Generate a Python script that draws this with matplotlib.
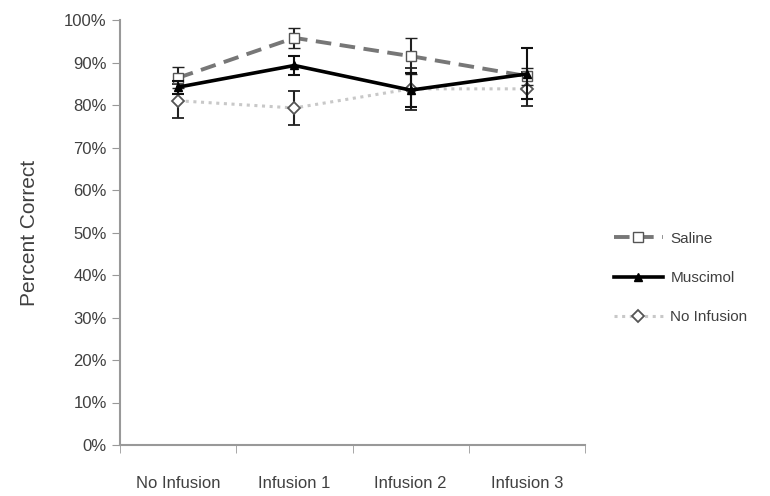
import numpy as np
import matplotlib
matplotlib.use("Agg")
import matplotlib.pyplot as plt
from matplotlib.ticker import PercentFormatter

plt.rcParams['font.family'] = ['Liberation Sans', 'DejaVu Sans']

# data
groups = ["No Infusion", "Infusion 1", "Infusion 2", "Infusion 3"]
saline = [86.4, 95.8, 91.5, 86.8]
saline_err = [2.5, 2.4, 4.2, 2.0]
muscimol = [84.2, 89.3, 83.5, 87.3]
muscimol_err = [1.5, 2.2, 4.0, 6.0]
noinf = [81.0, 79.3, 83.8, 83.8]
noinf_err = [4.0, 3.9, 5.0, 4.0]

fig = plt.figure(figsize=(7.7, 4.96), dpi=100)
ax = fig.add_axes([120 / 770, 51 / 496, 465 / 770, 425 / 496])

x = np.arange(len(groups))
axis_col = "#999999"
text_col = "#404040"

c1 = ax.errorbar(x, saline, yerr=saline_err, color="#777777", ls=(0, (4, 2.2)), lw=2.8,
                 marker="s", ms=6.5, mfc="white", mec="#555555", mew=1.0,
                 ecolor="#222222", elinewidth=1.5, capsize=4, capthick=1.5,
                 label="Saline", zorder=3)
c2 = ax.errorbar(x, muscimol, yerr=muscimol_err, color="black", ls="-", lw=2.6,
                 marker="^", ms=6, mfc="black", mec="black",
                 ecolor="#111111", elinewidth=1.5, capsize=4, capthick=1.5,
                 label="Muscimol", zorder=4)
c3 = ax.errorbar(x, noinf, yerr=noinf_err, color="#c8c8c8", ls=(0, (1, 1.5)), lw=2.2,
                 marker="D", ms=6, mfc="white", mec="#555555", mew=1.3,
                 ecolor="#222222", elinewidth=1.5, capsize=4, capthick=1.5,
                 label="No Infusion", zorder=2)

ax.set_xlim(-0.5, 3.5)
ax.set_ylim(0, 100)
ax.set_yticks(np.arange(0, 101, 10))
ax.yaxis.set_major_formatter(PercentFormatter(decimals=0))
ax.set_xticks(x)
ax.set_xticklabels(groups)
ax.set_xticks(np.arange(-0.5, 3.6, 1), minor=True)
ax.tick_params(axis="x", which="major", length=0, pad=22, labelsize=12, colors=text_col)
ax.tick_params(axis="x", which="minor", length=6, color=axis_col, direction="out")
ax.tick_params(axis="y", length=6, color=axis_col, labelsize=12, labelcolor=text_col)

for s in ["top", "right"]:
    ax.spines[s].set_visible(False)
for s in ["left", "bottom"]:
    ax.spines[s].set_color(axis_col)
    ax.spines[s].set_linewidth(1.5)

ax.set_ylabel("Percent Correct", fontsize=15, color=text_col, labelpad=18)

leg = ax.legend(handles=[c1[0], c2[0], c3[0]], labels=["Saline", "Muscimol", "No Infusion"],
                loc="center left", bbox_to_anchor=(600 / 770, 1 - 278 / 496),
                bbox_transform=fig.transFigure, frameon=False,
                fontsize=11, labelspacing=1.65, handlelength=3.2, handletextpad=0.5,
                numpoints=1)
for t in leg.get_texts():
    t.set_color(text_col)

fig.savefig("out.png", dpi=100)
